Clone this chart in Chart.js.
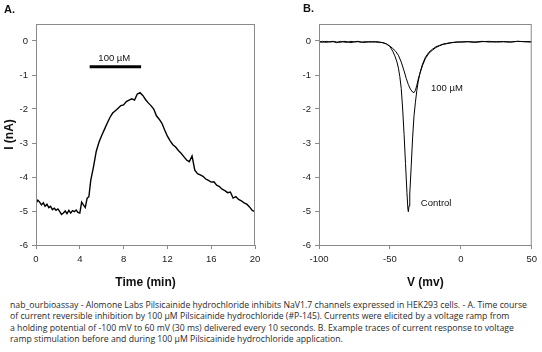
<!DOCTYPE html>
<html>
<head>
<meta charset="utf-8">
<script src="https://cdn.jsdelivr.net/npm/chart.js@4.4.1/dist/chart.umd.min.js"></script>
<style>
  body { margin: 0; background: #fff; width: 542px; height: 352px; overflow: hidden; position: relative; font-family: "Liberation Sans", Arial, sans-serif; }
  .panel { position: absolute; top: 0; width: 271px; height: 295px; }
  .tag { position: absolute; font-weight: bold; font-size: 11px; color: #111; }
  #caption { position: absolute; left: 10px; top: 300px; color: #2a2a2a; font-family: "Open Sans", "Noto Sans", sans-serif; line-height: 11.3px; }
  #caption div { white-space: nowrap; }
</style>
</head>
<body>
<div class="panel" style="left:0"><canvas id="chartA" width="271" height="295"></canvas></div>
<div class="panel" style="left:271px"><canvas id="chartB" width="271" height="295"></canvas></div>
<div class="tag" style="left:4px;top:3px">A.</div>
<div class="tag" style="left:303px;top:2px">B.</div>
<div id="caption">
  <div id="capFirst">nab_ourbioassay - Alomone Labs Pilsicainide hydrochloride inhibits NaV1.7 channels expressed in HEK293 cells. - A. Time course</div>
  <div>of current reversible inhibition by 100 µM Pilsicainide hydrochloride (#P-145). Currents were elicited by a voltage ramp from</div>
  <div>a holding potential of -100 mV to 60 mV (30 ms) delivered every 10 seconds. B. Example traces of current response to voltage</div>
  <div>ramp stimulation before and during 100 µM Pilsicainide hydrochloride application.</div>
</div>
<script>
// panel A: time course (min, nA)
const timeMin = [0, 0.17, 0.33, 0.5, 0.67, 0.83, 1, 1.17, 1.33, 1.5, 1.67, 1.83, 2, 2.17, 2.33, 2.5, 2.67, 2.83, 3, 3.17, 3.33, 3.5, 3.67, 3.83, 4, 4.17, 4.33, 4.5, 4.67, 4.83,
  5, 5.25, 5.5, 5.75, 6, 6.25, 6.5, 6.75, 7, 7.25, 7.5, 7.75, 8, 8.25, 8.5, 8.75, 9, 9.25, 9.5, 9.75,
  10, 10.25, 10.5, 10.75, 11, 11.25, 11.5, 11.75, 12, 12.25, 12.5, 12.75, 13, 13.25, 13.5, 13.75, 14, 14.25, 14.5, 14.75,
  15, 15.25, 15.5, 15.75, 16, 16.25, 16.5, 16.75, 17, 17.25, 17.5, 17.75, 18, 18.25, 18.5, 18.75, 19, 19.25, 19.5, 19.75, 20]
const currentA = [-4.78, -4.68, -4.74, -4.82, -4.76, -4.86, -4.80, -4.90, -4.86, -4.96, -4.92, -4.98, -4.94, -5.02, -5.10, -5.06, -5.00, -5.08, -4.98, -5.06, -4.99, -5.02, -4.97, -5.04, -5.06, -4.74, -4.82, -4.90, -4.62, -4.58,
  -4.10, -3.70, -3.25, -2.98, -2.78, -2.60, -2.42, -2.25, -2.12, -2.05, -1.98, -1.90, -1.88, -1.78, -1.74, -1.70, -1.74, -1.56, -1.52, -1.60,
  -1.72, -1.82, -1.90, -2.00, -2.20, -2.30, -2.42, -2.62, -2.80, -2.94, -3.05, -3.12, -3.22, -3.30, -3.40, -3.50, -3.55, -3.38, -3.80, -3.90,
  -3.94, -3.98, -4.06, -4.10, -4.15, -4.14, -4.24, -4.28, -4.36, -4.40, -4.46, -4.44, -4.62, -4.58, -4.66, -4.70, -4.76, -4.80, -4.88, -4.98, -5.02]
const drugBarTimes = [4.9, 9.6]
const drugBarLevel = -0.76
const timeTicks = [0, 4, 8, 12, 16, 20]

// panel B: ramp traces (mV, nA)
const vControl = [-100, -97.5, -95, -92.5, -90, -87.5, -85, -82.5, -80, -77.5, -75, -72.5, -70, -67.5, -65, -62.5, -60, -57.5, -55, -52.5,
  -50, -48, -46.5, -45, -44, -43, -42, -41, -40, -39, -38, -37.3, -37, -36.5, -36, -35, -34, -33, -32, -31,
  -30, -29, -28, -27, -25, -22.5, -20, -17.5, -15, -12.5, -10, -7.5, -5, -2.5, 0, 5, 10, 15, 20, 25, 30, 35, 40, 45, 50]
const iControl = [-0.02, -0.04, -0.01, -0.03, -0.02, -0.05, -0.01, -0.03, -0.04, -0.01, -0.03, -0.02, -0.04, -0.02, -0.03, -0.02, -0.03, -0.04, -0.05, -0.08,
  -0.16, -0.30, -0.44, -0.62, -0.80, -1.05, -1.40, -2.00, -2.75, -3.60, -4.45, -4.95, -5.02, -4.85, -4.50, -3.70, -2.85, -2.20, -1.80, -1.45,
  -1.18, -0.98, -0.82, -0.68, -0.48, -0.33, -0.24, -0.17, -0.13, -0.09, -0.07, -0.05, -0.04, -0.03, -0.03, -0.02, -0.03, -0.01, -0.03, -0.02, -0.02, -0.03, -0.01, -0.02, -0.02]
const vDrug = [-100, -97.5, -95, -92.5, -90, -87.5, -85, -82.5, -80, -77.5, -75, -72.5, -70, -67.5, -65, -62.5, -60, -57.5, -55, -52.5,
  -50, -48, -46, -44, -42, -40, -38.5, -37, -35.5, -34, -33, -32, -31, -30, -29, -28, -27, -25, -22.5, -20,
  -17.5, -15, -12.5, -10, -7.5, -5, -2.5, 0, 5, 10, 15, 20, 25, 30, 35, 40, 45, 50]
const iDrug = [-0.03, -0.01, -0.04, -0.02, -0.01, -0.03, -0.04, -0.01, -0.02, -0.05, -0.02, -0.01, -0.03, -0.04, -0.02, -0.03, -0.02, -0.03, -0.05, -0.09,
  -0.15, -0.22, -0.30, -0.42, -0.62, -0.88, -1.10, -1.28, -1.42, -1.50, -1.52, -1.45, -1.30, -1.12, -0.98, -0.85, -0.72, -0.52, -0.36, -0.27,
  -0.19, -0.14, -0.10, -0.08, -0.06, -0.04, -0.03, -0.03, -0.02, -0.04, -0.02, -0.01, -0.03, -0.02, -0.03, -0.01, -0.02, -0.03]
const voltTicks = [-100, -50, 0, 50]

const currentTicks = [-6, -5, -4, -3, -2, -1, 0]

const tickFont = { family: "'Liberation Sans', Arial, sans-serif", size: 9.5 }
const titleFont = { family: "'Liberation Sans', Arial, sans-serif", size: 12, weight: 'bold' }
const axisGrey = '#8a8a8a'

const toPoints = (xs, ys) => xs.map((x, i) => ({ x: x, y: ys[i] }))

// frame around plot area + text notes in data coords
const framePlugin = {
  id: 'frame',
  afterDraw(chart) {
    const { ctx, chartArea: a } = chart
    ctx.save()
    ctx.strokeStyle = axisGrey
    ctx.lineWidth = 1
    ctx.strokeRect(a.left + 0.5, a.top + 0.5, a.right - a.left - 1, a.bottom - a.top)
    const notes = chart.options.plugins.frame.notes || []
    ctx.fillStyle = '#111'
    ctx.font = "9.5px 'Liberation Sans', Arial, sans-serif"
    ctx.textBaseline = 'middle'
    notes.forEach(n => {
      ctx.textAlign = n.align
      ctx.fillText(n.text, chart.scales.x.getPixelForValue(n.x), chart.scales.y.getPixelForValue(n.y))
    })
    ctx.restore()
  }
}

function makeScales(xMin, xMax, xTicks, xTitle, yWidth, yTitle) {
  return {
    x: {
      type: 'linear', min: xMin, max: xMax,
      afterBuildTicks: s => { s.ticks = xTicks.map(v => ({ value: v })) },
      afterFit: s => { s.height = 50 },
      grid: { drawOnChartArea: false, tickLength: 4, color: axisGrey },
      border: { color: axisGrey },
      ticks: { font: tickFont, color: '#222', padding: 5, maxRotation: 0 },
      title: { display: true, text: xTitle, font: titleFont, color: '#111', padding: { top: 0, bottom: 5 } }
    },
    y: {
      type: 'linear', min: -6, max: 0.5,
      afterBuildTicks: s => { s.ticks = currentTicks.map(v => ({ value: v })) },
      afterFit: s => { s.width = yWidth },
      grid: { drawOnChartArea: false, tickLength: 4, color: axisGrey },
      border: { color: axisGrey },
      ticks: { font: tickFont, color: '#222', padding: 4 },
      title: { display: !!yTitle, text: yTitle, font: titleFont, color: '#111', padding: { top: 2, bottom: 0 } }
    }
  }
}

new Chart(document.getElementById('chartA'), {
  type: 'line',
  data: {
    datasets: [
      { data: toPoints(timeMin, currentA), borderColor: '#000', borderWidth: 1.4, pointRadius: 0, tension: 0 },
      { data: toPoints(drugBarTimes, [drugBarLevel, drugBarLevel]), borderColor: '#000', borderWidth: 3, pointRadius: 0 }
    ]
  },
  options: {
    responsive: false, animation: false,
    layout: { padding: { top: 24, right: 16, left: 0, bottom: 0 } },
    scales: makeScales(0, 20, timeTicks, 'Time (min)', 36, 'I (nA)'),
    plugins: {
      legend: { display: false }, tooltip: { enabled: false },
      frame: { notes: [{ text: '100 µM', x: 7.15, y: -0.5, align: 'center' }] }
    }
  },
  plugins: [framePlugin]
})

new Chart(document.getElementById('chartB'), {
  type: 'line',
  data: {
    datasets: [
      { data: toPoints(vControl, iControl), borderColor: '#000', borderWidth: 1, pointRadius: 0, tension: 0 },
      { data: toPoints(vDrug, iDrug), borderColor: '#000', borderWidth: 1, pointRadius: 0, tension: 0 }
    ]
  },
  options: {
    responsive: false, animation: false,
    layout: { padding: { top: 24, right: 2, left: 0, bottom: 0 } },
    scales: makeScales(-100, 50, voltTicks, 'V (mv)', 48, ''),
    plugins: {
      legend: { display: false }, tooltip: { enabled: false },
      frame: { notes: [
        { text: '100 µM', x: -21, y: -1.38, align: 'left' },
        { text: 'Control', x: -28.2, y: -4.77, align: 'left' }
      ] }
    }
  },
  plugins: [framePlugin]
})

// fit caption font so the first line spans the same width as the original
const cap = document.getElementById('caption')
const first = document.getElementById('capFirst')
let size = 10
cap.style.fontSize = size + 'px'
while (first.getBoundingClientRect().width > 523 && size > 6) {
  size -= 0.1
  cap.style.fontSize = size + 'px'
}
</script>
</body>
</html>
